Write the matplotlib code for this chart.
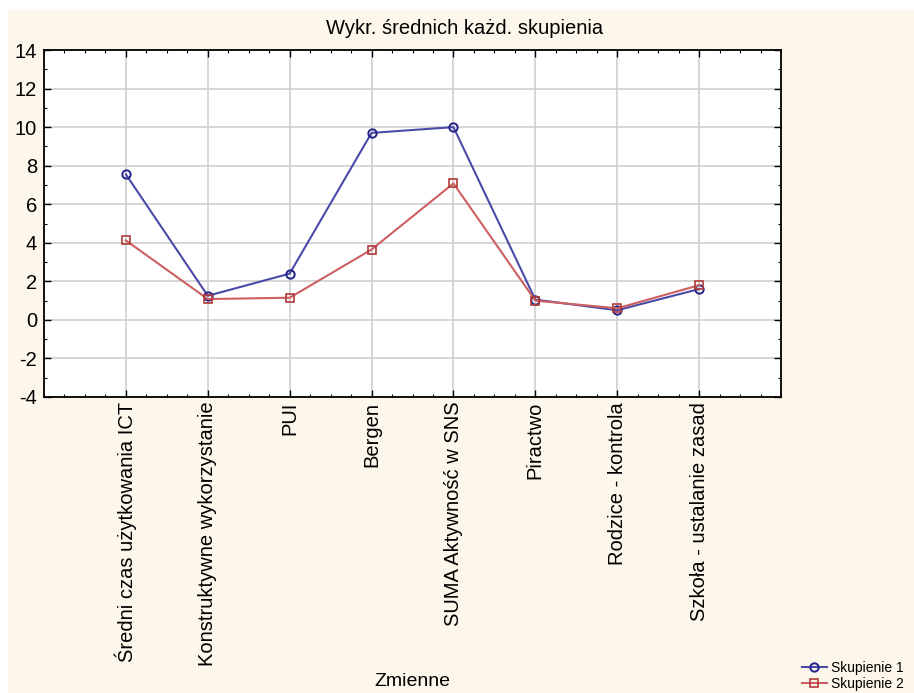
import matplotlib.pyplot as plt
import matplotlib.patches as mpatches
from matplotlib.ticker import MultipleLocator, AutoMinorLocator

plt.rcParams['font.family'] = ['Liberation Sans', 'DejaVu Sans']
plt.rcParams['axes.unicode_minus'] = False

# Data
zmienne = ["Średni czas użytkowania ICT", "Konstruktywne wykorzystanie", "PUI", "Bergen",
           "SUMA Aktywność w SNS", "Piractwo", "Rodzice - kontrola", "Szkoła - ustalanie zasad"]
skupienie_1 = [7.55, 1.25, 2.4, 9.7, 10.0, 1.05, 0.5, 1.6]
skupienie_2 = [4.12, 1.08, 1.15, 3.65, 7.08, 1.0, 0.6, 1.8]

fig = plt.figure(figsize=(9.14, 6.93), dpi=100)
fig.patch.set_facecolor('white')

# cream panel behind the chart (screenshot background)
fig.patches.append(mpatches.Rectangle((8 / 914, 0), 1, 1 - 10 / 693, transform=fig.transFigure,
                                      facecolor='#fdf6ea', edgecolor='none', zorder=-5))

ax = fig.add_axes([44 / 914, 1 - 397 / 693, (781 - 44) / 914, (397 - 50) / 693])
ax.set_facecolor('white')

x = list(range(len(zmienne)))
ax.plot(x, skupienie_1, color='#4a4aa8', lw=1.5, marker='o', ms=6,
        mfc='none', mec='#23238a', mew=1.4, label='Skupienie 1', zorder=3)
ax.plot(x, skupienie_2, color='#cc5f5f', lw=1.5, marker='s', ms=6,
        mfc='none', mec='#b03a3a', mew=1.2, label='Skupienie 2', zorder=3)

ax.set_xlim(-1, len(zmienne))
ax.set_ylim(-4, 14)
ax.set_xticks(x)
ax.set_xticklabels(zmienne, rotation=90, fontsize=14.5)
ax.yaxis.set_major_locator(MultipleLocator(2))
ax.yaxis.set_minor_locator(MultipleLocator(1))
ax.xaxis.set_minor_locator(AutoMinorLocator(4))
ax.tick_params(axis='y', labelsize=14.5, pad=5)
ax.tick_params(which='both', direction='in', top=True, right=True, color='black')
ax.tick_params(which='major', length=5, width=1)
ax.tick_params(which='minor', length=2.5, width=0.8)
ax.grid(True, which='major', color='#cfcfcf', lw=1.2)
ax.set_axisbelow(True)
for s in ax.spines.values():
    s.set_linewidth(1.3)

fig.text(465 / 914, 1 - 29 / 693, "Wykr. średnich każd. skupienia", ha='center', va='center', fontsize=14.5)
fig.text(412 / 914, 1 - 682 / 693, "Zmienne", ha='center', va='center', fontsize=14)

fig.legend(loc='upper left', bbox_to_anchor=(795 / 914, 1 - 654 / 693), frameon=False,
           fontsize=10, handlelength=1.8, handletextpad=0.3, labelspacing=0.15, borderpad=0)

fig.savefig('out.png', dpi=100, facecolor=fig.get_facecolor())
